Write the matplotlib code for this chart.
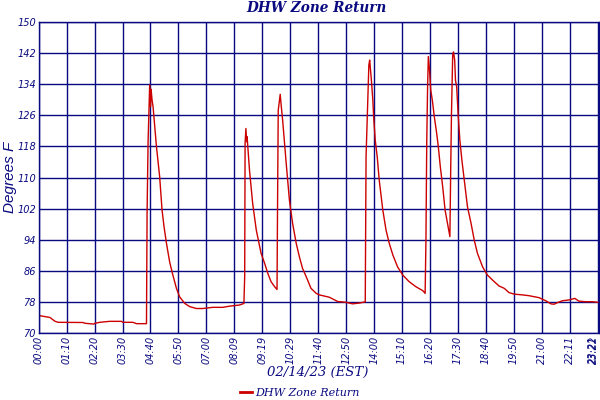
import matplotlib
matplotlib.use("Agg")
import matplotlib.pyplot as plt
from matplotlib.lines import Line2D

# time in minutes since midnight, temperature in degrees F
minutes = [0, 28, 41, 49, 111, 116, 138, 141, 153, 178, 207, 211, 236, 245, 270,
           271.5, 274, 278, 280, 281.5, 284, 286.5, 295, 303, 309, 314, 320, 328, 335,
           345, 353, 366, 378, 395, 411, 436, 461, 478, 503, 514,
           516, 517, 519, 521, 522, 528, 536, 545, 557, 566, 574, 582, 591, 597,
           598, 600, 603, 605, 607, 611, 620, 628, 636, 645, 653, 661, 670, 682,
           695, 703, 728, 749, 770, 786, 803, 818,
           820, 824, 827, 829, 831, 833, 837, 839, 843, 848, 853, 862, 870, 878,
           887, 899, 912, 928, 945, 962, 968,
           970, 972, 974, 976, 979, 982, 986, 991, 997, 1001, 1006, 1012, 1018, 1024, 1030,
           1032, 1034, 1037, 1039, 1042, 1044, 1047, 1051, 1055, 1060, 1066, 1074, 1083,
           1091, 1099, 1112, 1124, 1137, 1153, 1166, 1178, 1191, 1212, 1228, 1253, 1270,
           1283, 1291, 1299, 1312, 1328, 1343, 1353, 1370, 1386, 1401]
temps = [74.5, 74.0, 73.0, 72.75, 72.7, 72.5, 72.3, 72.5, 72.75, 73.0, 73.0, 72.75, 72.75, 72.4, 72.4,
         101.2, 119.2, 133.8, 128.2, 132.7, 129.9, 128.2, 117.9, 110.2, 101.6, 97.3, 93.1, 88.3, 85.3,
         81.5, 79.3, 77.6, 76.8, 76.3, 76.3, 76.6, 76.6, 76.9, 77.2, 77.6,
         84.5, 118.8, 122.6, 119.2, 120.5, 111.9, 103.3, 96.5, 90.5, 87.9, 85.3, 83.2, 81.9, 81.2,
         98.2, 127.3, 129.9, 131.4, 129.0, 124.8, 113.6, 104.2, 98.2, 93.1, 89.6, 86.6, 84.5, 81.5,
         80.2, 79.8, 79.2, 78.1, 77.9, 77.5, 77.7, 78.0,
         115.3, 129.0, 138.9, 140.2, 138.0, 135.5, 129.9, 125.6, 119.6, 115.3, 109.3, 101.6, 96.5, 93.1,
         90.1, 87.0, 84.9, 83.2, 81.9, 80.9, 80.2,
         93.9, 118.8, 132.5, 141.1, 137.6, 132.5, 129.9, 125.6, 121.3, 117.9, 112.8, 107.6, 101.6, 98.2, 94.8,
         111.9, 126.5, 141.5, 142.3, 140.2, 135.0, 133.3, 125.6, 119.6, 114.5, 109.3, 102.5, 98.2,
         93.9, 90.5, 87.0, 84.9, 83.6, 82.1, 81.5, 80.4, 80.0, 79.8, 79.6, 79.1, 78.3,
         77.5, 77.4, 77.8, 78.3, 78.5, 78.9, 78.2, 78.05, 78.05, 77.9]

tick_minutes = [0, 70, 140, 210, 280, 350, 420, 490, 560, 630, 700, 770, 840, 910,
                980, 1050, 1120, 1190, 1260, 1330, 1400, 1403]
tick_labels = ["00:00", "01:10", "02:20", "03:30", "04:40", "05:50", "07:00", "08:09",
               "09:19", "10:29", "11:40", "12:50", "14:00", "15:10", "16:20", "17:30",
               "18:40", "19:50", "21:00", "22:11", "23:21", "23:22"]
y_ticks = [70, 78, 86, 94, 102, 110, 118, 126, 134, 142, 150]

navy = "#0a0a80"
red = "#cc0000"

fig = plt.figure(figsize=(6, 4), dpi=100)
ax = fig.add_axes([0.0645, 0.1675, 0.9335, 0.7775])
ax.plot(minutes, temps, color=red, lw=1.0)
ax.set_xlim(0, 1403)
ax.set_ylim(70, 150)
ax.set_xticks(tick_minutes)
ax.set_xticklabels(tick_labels, rotation=90, fontsize=7, style="italic",
                   color=navy, family="DejaVu Sans")
xl = ax.get_xticklabels()
xl[-1].set_ha("right")
xl[-2].set_ha("right")
ax.set_yticks(y_ticks)
ax.set_yticklabels([str(v) for v in y_ticks], fontsize=7, style="italic",
                   color=navy, family="DejaVu Sans")
ax.grid(True, color=navy, lw=1.0)
ax.set_axisbelow(True)
ax.tick_params(length=0, pad=2)
for s in ax.spines.values():
    s.set_color(navy)
    s.set_linewidth(1.0)

fig.text(0.528, 0.981, "DHW Zone Return", ha="center", va="center",
         fontsize=9.8, fontweight="bold", style="italic", color=navy, family="DejaVu Serif")
fig.text(0.016, 0.556, "Degrees F", rotation=90, ha="center", va="center",
         fontsize=11, style="italic", color=navy, family="Liberation Sans")
fig.text(0.53, 0.07, "02/14/23 (EST)", ha="center", va="center",
         fontsize=9.5, style="italic", color=navy, family="DejaVu Serif")
h = Line2D([], [], color=red, lw=2)
fig.legend([h], ["DHW Zone Return"], loc="center", bbox_to_anchor=(0.50, 0.018),
           frameon=False, handlelength=1.1, handletextpad=0.3, borderaxespad=0,
           prop={"family": "DejaVu Serif", "style": "italic", "size": 8}, labelcolor=navy)
fig.savefig("out.png", dpi=100)
